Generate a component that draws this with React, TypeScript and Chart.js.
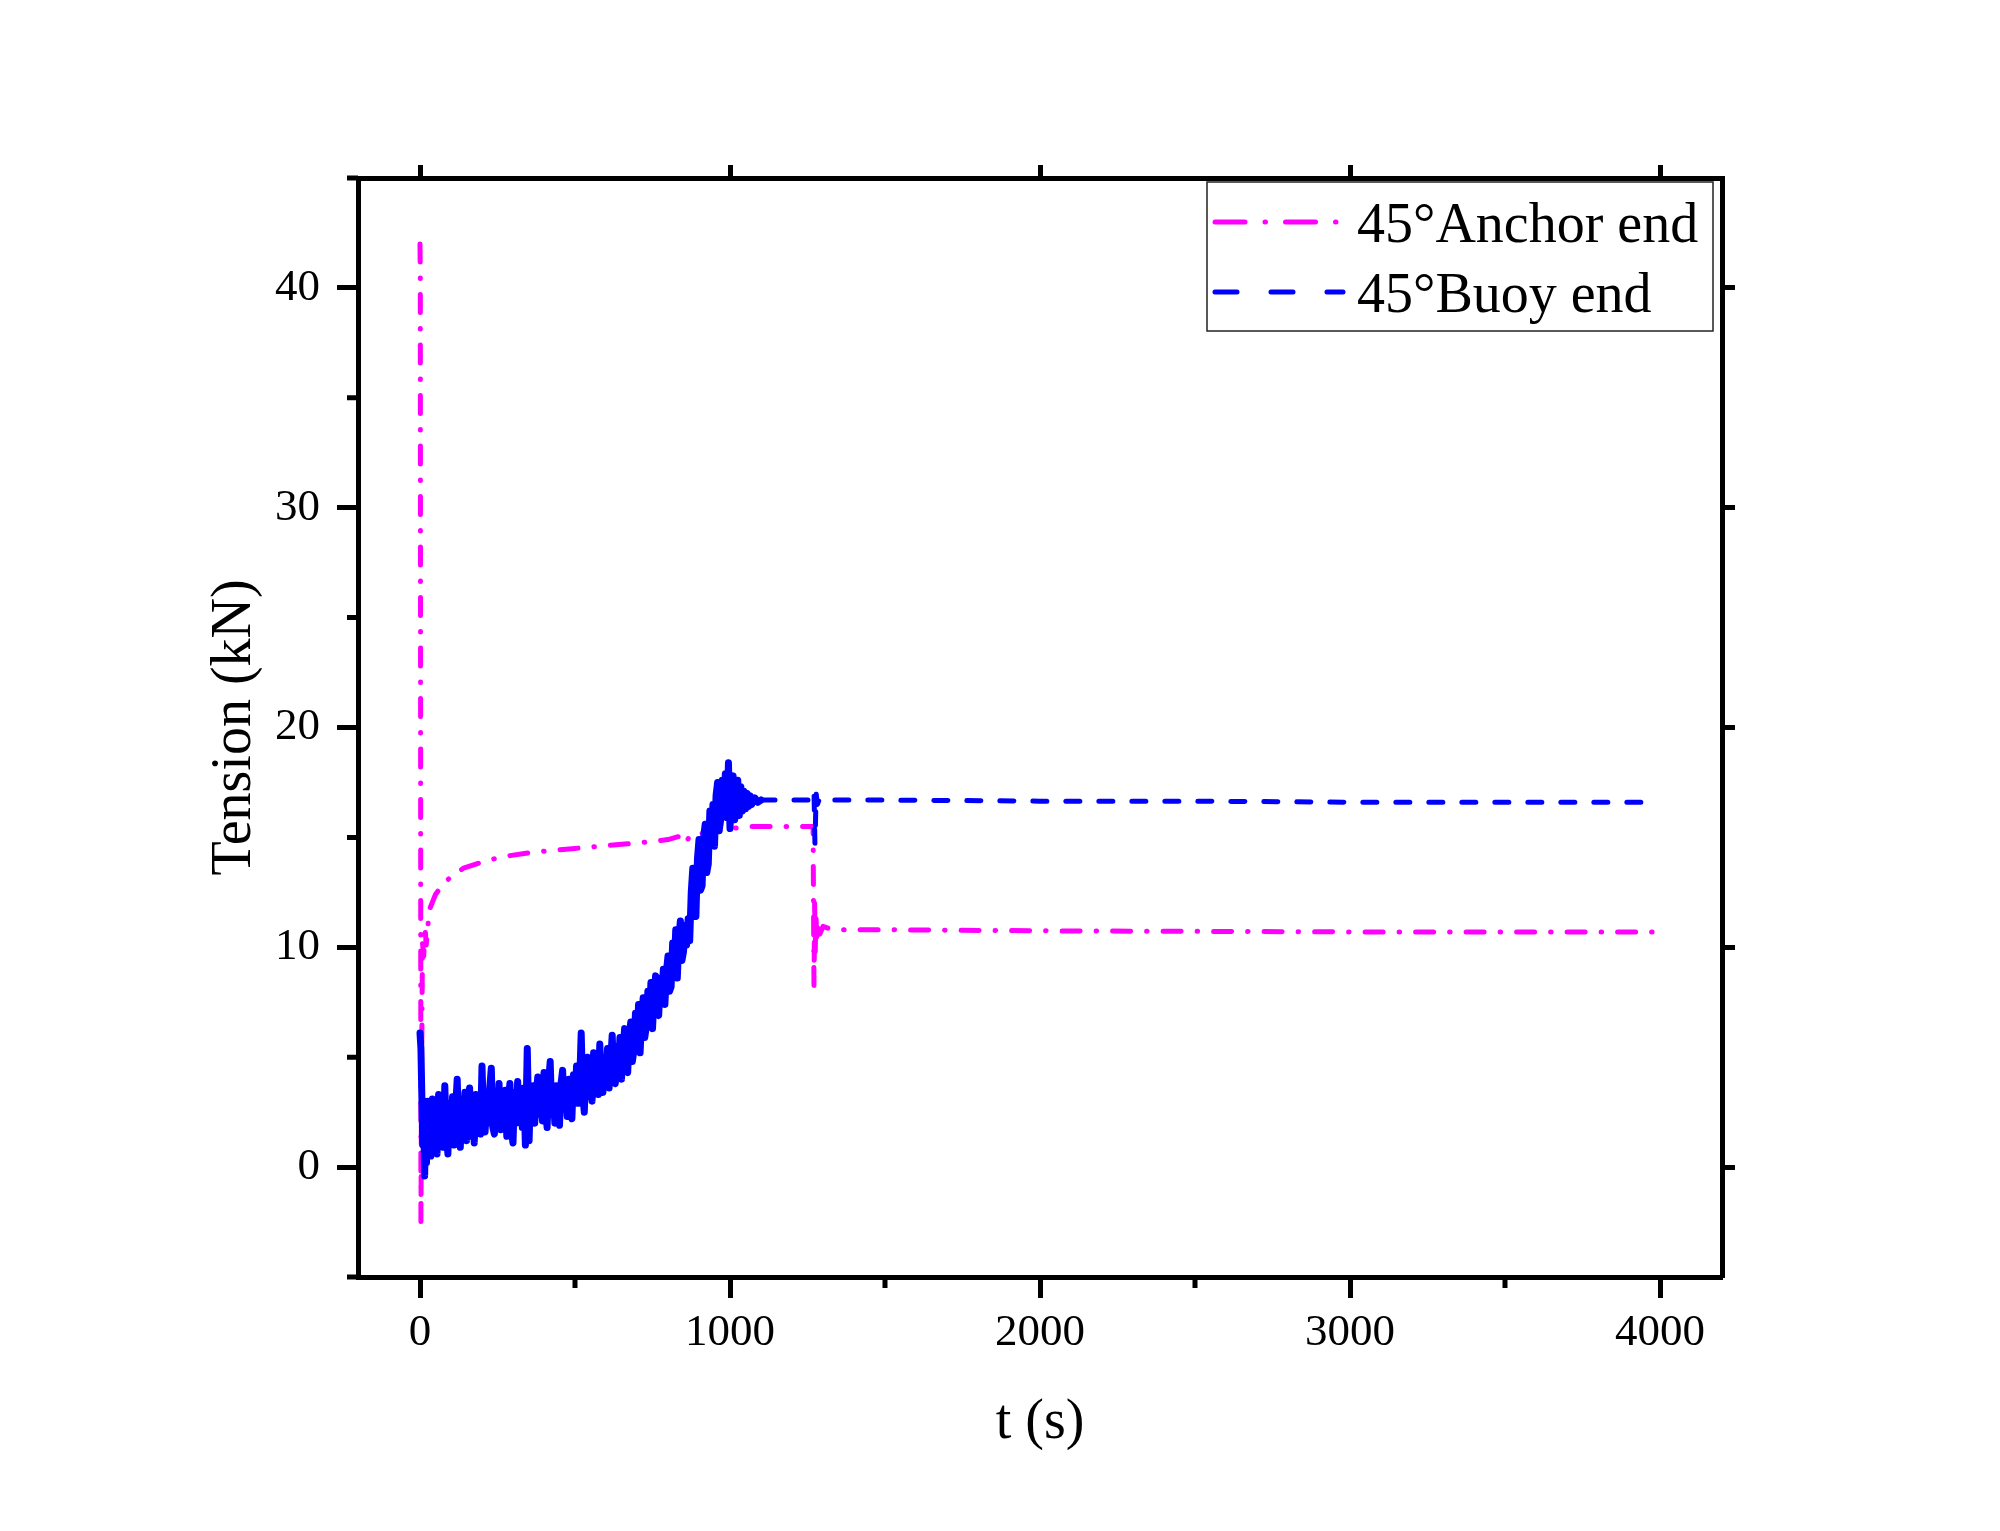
import React, { useEffect, useRef } from 'react';
import { Chart, registerables } from 'chart.js';

Chart.register(...registerables);

// [t (s), tension (kN)]
const anchorEnd: [number, number][] = [
  [0, 42], [1, 40.5], [3, -2.6], [5, 4], [8, 10.2], [12, 9.6], [16, 11.0], [20, 10.1],
  [30, 11.7], [50, 12.4], [75, 12.9], [100, 13.2], [140, 13.6], [183, 13.8], [258, 14.1],
  [350, 14.3], [419, 14.4], [500, 14.5], [581, 14.6], [660, 14.7], [742, 14.8], [800, 14.9],
  [850, 15.1], [860, 14.8], [871, 15.1], [920, 15.2], [957, 15.3], [1000, 15.4], [1065, 15.5],
  [1150, 15.5], [1268, 15.5], [1271, 8.1], [1273, 12.0], [1275, 9.8], [1277, 11.6], [1280, 10.3],
  [1284, 11.2], [1290, 10.6], [1300, 10.95], [1330, 10.8], [1500, 10.8], [2000, 10.75],
  [3000, 10.7], [3987, 10.7],
];

const buoyEnd: [number, number][] = [
  [0, 6.1], [3, 5.4], [6, 3.2], [9, 1.0], [12, 2.6], [15, -0.4], [18, 2.2], [21, 0.2], [24, 3.0],
  [27, 0.8], [30, 2.4], [35, 0.5], [40, 3.1], [45, 1.2], [50, 2.6], [55, 0.6], [60, 3.3], [65, 1.4],
  [70, 2.8], [75, 0.9], [80, 3.7], [85, 1.5], [90, 0.6], [95, 2.9], [100, 1.3], [105, 3.2], [110, 1.0],
  [115, 2.7], [120, 4.0], [125, 1.6], [130, 0.9], [135, 3.1], [140, 1.8], [145, 3.4], [150, 1.2],
  [155, 2.9], [160, 3.6], [165, 1.4], [170, 3.0], [175, 1.1], [180, 3.3], [185, 1.9], [190, 2.8],
  [195, 1.5], [200, 4.6], [205, 2.2], [210, 1.6], [215, 3.2], [220, 2.0], [225, 3.6], [230, 4.5],
  [235, 1.8], [240, 1.5], [245, 3.3], [250, 2.1], [255, 3.8], [260, 1.7], [265, 3.1], [270, 2.2],
  [275, 3.5], [280, 1.4], [285, 3.0], [290, 3.8], [295, 1.6], [300, 1.1], [305, 3.4], [310, 2.0],
  [315, 3.9], [320, 2.3], [325, 3.2], [330, 1.8], [335, 3.6], [340, 1.0], [346, 5.4], [352, 1.2],
  [356, 3.3], [360, 2.2], [365, 3.7], [370, 2.0], [375, 3.4], [380, 4.1], [385, 2.4], [390, 3.5],
  [395, 2.1], [400, 4.3], [405, 2.6], [410, 1.8], [415, 3.9], [420, 4.8], [425, 2.4], [430, 3.3],
  [435, 2.0], [440, 3.7], [445, 2.5], [450, 1.9], [455, 3.8], [460, 4.4], [465, 2.7], [470, 3.6],
  [475, 2.3], [480, 4.0], [485, 2.8], [490, 2.2], [495, 4.2], [500, 3.0], [505, 4.6], [510, 2.9],
  [515, 3.8], [520, 6.1], [525, 3.3], [530, 2.5], [535, 4.5], [540, 5.0], [545, 3.2], [550, 4.4],
  [555, 3.0], [560, 5.2], [565, 3.6], [570, 4.7], [575, 3.3], [580, 5.6], [585, 3.8], [590, 3.4],
  [595, 5.0], [600, 3.9], [605, 5.4], [610, 3.6], [615, 4.8], [620, 6.0], [625, 4.0], [630, 3.8],
  [635, 5.5], [640, 4.3], [645, 5.9], [650, 4.0], [655, 5.3], [660, 6.3], [665, 4.4], [670, 4.3],
  [675, 6.0], [680, 6.6], [685, 4.8], [690, 5.3], [695, 7.0], [700, 5.6], [705, 7.4], [710, 5.2],
  [715, 6.8], [720, 7.7], [725, 5.9], [730, 6.4], [735, 8.0], [740, 6.9], [745, 8.4], [750, 6.3],
  [755, 7.8], [760, 8.7], [765, 7.0], [770, 6.9], [775, 8.6], [780, 7.6], [785, 9.0], [790, 7.4],
  [795, 8.9], [800, 9.6], [805, 8.0], [810, 8.2], [815, 10.2], [820, 9.0], [825, 10.8], [830, 8.6],
  [835, 10.4], [840, 11.2], [845, 9.4], [850, 9.8], [855, 11.0], [860, 10.1], [865, 11.3],
  [870, 10.3], [875, 12.5], [880, 13.6], [885, 11.8], [890, 11.4], [895, 14.0], [900, 14.9],
  [905, 12.6], [910, 12.8], [915, 15.0], [920, 15.6], [925, 13.4], [930, 13.8], [935, 16.2],
  [940, 15.0], [945, 16.5], [950, 14.6], [955, 16.9], [960, 17.5], [965, 15.3], [970, 15.8],
  [975, 17.6], [980, 16.4], [985, 17.9], [990, 15.9], [995, 18.4], [1000, 15.4], [1005, 17.2],
  [1010, 17.8], [1015, 15.8], [1020, 16.3], [1025, 17.6], [1030, 16.0], [1035, 17.3], [1040, 16.2],
  [1045, 17.1], [1050, 16.3], [1055, 17.0], [1060, 16.4], [1065, 16.9], [1070, 16.5], [1080, 16.8],
  [1090, 16.6], [1100, 16.7], [1200, 16.7], [1268, 16.7], [1271, 17.1], [1274, 14.7], [1278, 17.0],
  [1282, 16.5], [1290, 16.8], [1300, 16.7], [1500, 16.7], [2000, 16.65], [2500, 16.65],
  [3000, 16.6], [3500, 16.6], [3987, 16.6],
];

const seriesLabels = ['45°Anchor end', '45°Buoy end'];
const seriesColors = ['#ff00ff', '#0000ff'];

const xMajorTicks = [0, 1000, 2000, 3000, 4000];
const xMinorTicks = [500, 1500, 2500, 3500];
const yMajorTicks = [0, 10, 20, 30, 40];
const yMinorTicks = [-5, 5, 15, 25, 35, 45];

const FONT = "'Liberation Serif', 'Times New Roman', serif";
const ANCHOR_DASH = [18, 16, 0.5, 16];
const BUOY_DASH = [14, 19];

const setTicks = (values: number[]) => (scale: any) => {
  scale.ticks = values.map((v) => ({ value: v }));
};

// minor ticks on the bottom and left axes (outward)
const minorTicksPlugin = {
  id: 'minorTicks',
  afterDraw(chart: any) {
    const { ctx, chartArea, scales } = chart;
    ctx.save();
    ctx.strokeStyle = '#000';
    ctx.lineWidth = 5;
    ctx.beginPath();
    xMinorTicks.forEach((v) => {
      const px = scales.x.getPixelForValue(v);
      ctx.moveTo(px, chartArea.bottom);
      ctx.lineTo(px, chartArea.bottom + 11);
    });
    yMinorTicks.forEach((v) => {
      const py = scales.y.getPixelForValue(v);
      ctx.moveTo(chartArea.left - 11, py);
      ctx.lineTo(chartArea.left, py);
    });
    ctx.stroke();
    ctx.restore();
  },
};

// boxed legend in the upper right corner of the plot
const boxLegendPlugin = {
  id: 'boxLegend',
  afterDraw(chart: any) {
    const { ctx, chartArea } = chart;
    const right = chartArea.right - 9;
    const left = right - 506;
    const top = chartArea.top + 4;
    const h = 149;
    ctx.save();
    ctx.fillStyle = '#fff';
    ctx.fillRect(left, top, right - left, h);
    ctx.strokeStyle = '#222';
    ctx.lineWidth = 1.5;
    ctx.strokeRect(left, top, right - left, h);

    const dashes = [[30, 20, 0.5, 20], [22, 34]];
    const rows = [40, 110];
    chart.data.datasets.forEach((ds: any, i: number) => {
      const y = top + rows[i];
      ctx.strokeStyle = ds.borderColor;
      ctx.lineWidth = 5;
      ctx.lineCap = 'round';
      ctx.setLineDash(dashes[i]);
      ctx.beginPath();
      ctx.moveTo(left + 8, y);
      ctx.lineTo(left + 136, y);
      ctx.stroke();
      ctx.setLineDash([]);
      ctx.fillStyle = '#000';
      ctx.font = `56px ${FONT}`;
      ctx.textBaseline = 'alphabetic';
      ctx.textAlign = 'left';
      ctx.fillText(ds.label, left + 150, y + 20);
    });
    ctx.restore();
  },
};

const App: React.FC = () => {
  const canvasRef = useRef<HTMLCanvasElement>(null);

  useEffect(() => {
    if (!canvasRef.current) return;
    const frame = { display: true, width: 5, color: '#000' };

    const chart = new Chart(canvasRef.current, {
      type: 'line',
      data: {
        datasets: [
          {
            label: seriesLabels[0],
            data: anchorEnd.map(([x, y]) => ({ x, y })),
            borderColor: seriesColors[0],
            borderWidth: 5,
            borderDash: ANCHOR_DASH,
            borderCapStyle: 'round',
            borderJoinStyle: 'round',
            pointRadius: 0,
            tension: 0,
            order: 2,
          },
          {
            label: seriesLabels[1],
            data: buoyEnd.map(([x, y]) => ({ x, y })),
            borderColor: seriesColors[1],
            borderWidth: 5,
            borderDash: BUOY_DASH,
            borderCapStyle: 'round',
            borderJoinStyle: 'round',
            pointRadius: 0,
            tension: 0,
            order: 1,
            segment: {
              borderDash: (ctx: any) => (ctx.p0.parsed.x < 1100 ? [] : BUOY_DASH),
              borderWidth: (ctx: any) => (ctx.p0.parsed.x < 1100 ? 7 : 5),
            },
          },
        ],
      },
      options: {
        responsive: false,
        devicePixelRatio: 1,
        animation: false,
        events: [],
        layout: { padding: 0 },
        plugins: {
          legend: { display: false },
          tooltip: { enabled: false },
        },
        scales: {
          x: {
            type: 'linear',
            position: 'bottom',
            min: -200,
            max: 4200,
            afterBuildTicks: setTicks(xMajorTicks),
            afterFit: (s: any) => { s.height = 254; },
            grid: { drawOnChartArea: false, drawTicks: true, tickLength: 21, tickWidth: 5, tickColor: '#000' },
            border: frame,
            ticks: {
              font: { family: FONT, size: 45 },
              color: '#000',
              padding: 8,
              maxRotation: 0,
              autoSkip: false,
              callback: (v: any) => String(v),
            },
            title: {
              display: true,
              text: 't (s)',
              font: { family: FONT, size: 56 },
              color: '#000',
              padding: { top: 0, bottom: 74 },
            },
          },
          x2: {
            type: 'linear',
            position: 'top',
            min: -200,
            max: 4200,
            afterBuildTicks: setTicks(xMajorTicks),
            afterFit: (s: any) => { s.height = 178; },
            grid: { drawOnChartArea: false, drawTicks: true, tickLength: 13, tickWidth: 5, tickColor: '#000' },
            border: frame,
            ticks: { display: false },
          },
          y: {
            type: 'linear',
            position: 'left',
            min: -5,
            max: 45,
            afterBuildTicks: setTicks(yMajorTicks),
            afterFit: (s: any) => { s.width = 358; },
            grid: { drawOnChartArea: false, drawTicks: true, tickLength: 21, tickWidth: 5, tickColor: '#000' },
            border: frame,
            ticks: { font: { family: FONT, size: 45 }, color: '#000', padding: 17 },
            title: {
              display: true,
              text: 'Tension (kN)',
              font: { family: FONT, size: 56 },
              color: '#000',
              padding: { top: 202, bottom: 0 },
            },
          },
          y2: {
            type: 'linear',
            position: 'right',
            min: -5,
            max: 45,
            afterBuildTicks: setTicks(yMajorTicks),
            afterFit: (s: any) => { s.width = 278; },
            grid: { drawOnChartArea: false, drawTicks: true, tickLength: 13, tickWidth: 5, tickColor: '#000' },
            border: frame,
            ticks: { display: false },
          },
        },
      },
      plugins: [minorTicksPlugin, boxLegendPlugin],
    });

    return () => {
      chart.destroy();
    };
  }, []);

  return (
    <div style={{ position: 'absolute', left: 0, top: 0, width: 2000, height: 1531, background: '#fff' }}>
      <canvas ref={canvasRef} width={2000} height={1531} style={{ display: 'block' }} />
    </div>
  );
};

export default App;
